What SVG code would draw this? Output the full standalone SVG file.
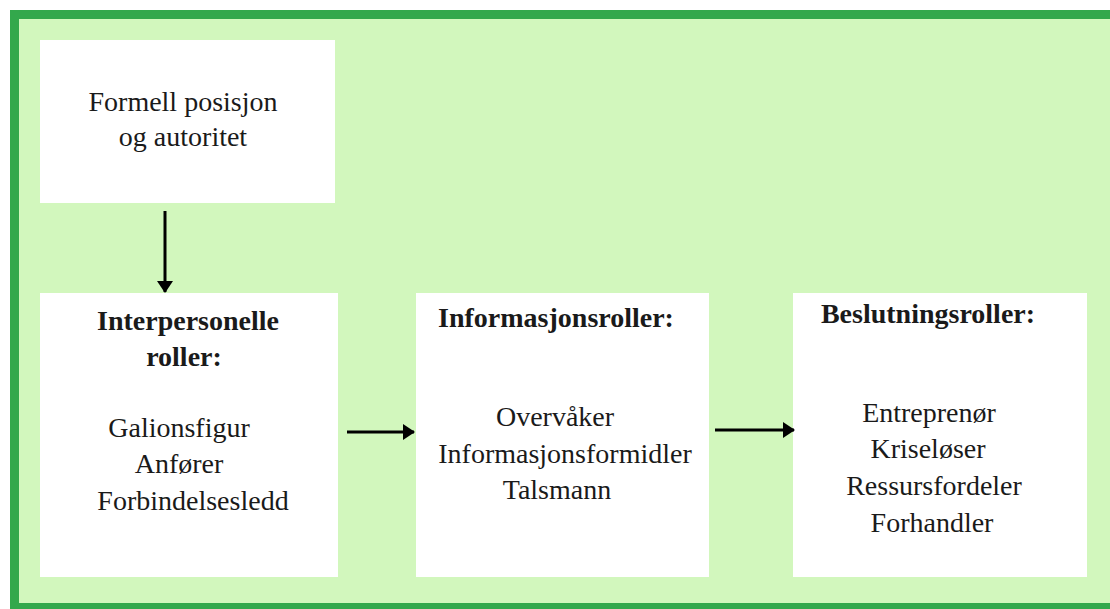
<svg xmlns="http://www.w3.org/2000/svg" width="1110" height="609" viewBox="0 0 1110 609">
  <style>
    .box { fill: #ffffff; }
    .t { font-family: "Liberation Serif", "Times New Roman", serif; font-size: 28px; fill: #1a1a1a; text-anchor: middle; }
    .b { font-weight: bold; }
    .conn { stroke: #000000; stroke-width: 3; fill: none; marker-end: url(#ah); }
  </style>
  <defs>
    <marker id="ah" markerUnits="userSpaceOnUse" markerWidth="12" markerHeight="16" refX="11" refY="8" orient="auto">
      <path d="M0,0 L12,8 L0,16 z" fill="#000000"/>
    </marker>
  </defs>
  <rect x="0" y="0" width="1110" height="609" fill="#ffffff"/>
  <rect x="10" y="10" width="1110" height="610" fill="#33a84c"/>
  <rect x="19" y="19" width="1100" height="584" fill="#d2f7bd"/>

  <g id="node-formell">
    <rect class="box" x="40" y="40" width="295" height="163"/>
    <text class="t" x="183" y="111">Formell posisjon</text>
    <text class="t" x="183" y="146">og autoritet</text>
  </g>

  <g id="node-interpersonelle">
    <rect class="box" x="40" y="293" width="298" height="284"/>
    <text class="t b" x="188" y="330">Interpersonelle</text>
    <text class="t b" x="184" y="366">roller:</text>
    <text class="t" x="179" y="437">Galionsfigur</text>
    <text class="t" x="179" y="473">Anfører</text>
    <text class="t" x="193" y="510">Forbindelsesledd</text>
  </g>

  <g id="node-informasjon">
    <rect class="box" x="416" y="293" width="293" height="284"/>
    <text class="t b" x="556" y="327">Informasjonsroller:</text>
    <text class="t" x="555" y="426">Overvåker</text>
    <text class="t" x="565" y="463">Informasjonsformidler</text>
    <text class="t" x="557" y="499">Talsmann</text>
  </g>

  <g id="node-beslutning">
    <rect class="box" x="793" y="293" width="294" height="284"/>
    <text class="t b" x="928" y="323">Beslutningsroller:</text>
    <text class="t" x="929" y="422">Entreprenør</text>
    <text class="t" x="928" y="458">Kriseløser</text>
    <text class="t" x="934" y="495">Ressursfordeler</text>
    <text class="t" x="932" y="532">Forhandler</text>
  </g>

  <g id="connectors">
    <line class="conn" x1="165" y1="211" x2="165" y2="292"/>
    <line class="conn" x1="347" y1="432" x2="414" y2="432"/>
    <line class="conn" x1="715" y1="430" x2="794" y2="430"/>
  </g>
</svg>
